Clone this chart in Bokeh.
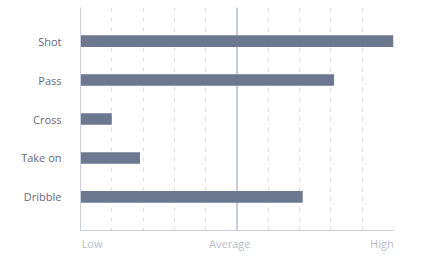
from bokeh.plotting import figure
from bokeh.models import Range1d, FixedTicker, Span
from bokeh.embed import file_html
from bokeh.resources import INLINE

# Skill ratings on a 0 (Low) .. 10 (High) scale
skills = ["Shot", "Pass", "Cross", "Take on", "Dribble"]
ratings = [10, 8.1, 1.0, 1.9, 7.1]

average_level = 5
# scale words sit just inside the ends of the value axis
scale_label_positions = [0.37, 4.77, 9.63]
scale_labels = ["Low", "Average", "High"]

FONT = "Open Sans"
BAR = "#6b7890"
LABEL = "#5f6b80"
MUTED = "#b7bdca"
AXIS = "#c9cdd9"

ypos = list(range(len(skills)))

p = figure(width=426, height=256, output_backend="svg", toolbar_location=None,
           x_range=Range1d(0, 10), y_range=Range1d(4.86, -0.86),
           min_border_left=80, min_border_right=33,
           min_border_top=7, min_border_bottom=26)
p.outline_line_color = None

# dashed vertical guides at every scale step
p.xgrid.ticker = FixedTicker(ticks=list(range(1, 11)))
p.xgrid.grid_line_color = "#dcdde2"
p.xgrid.grid_line_dash = "4 6"
p.xgrid.grid_line_width = 1
p.ygrid.grid_line_color = None

# solid marker for the average, behind the bars
p.add_layout(Span(location=average_level, dimension="height",
                  line_color=AXIS, line_width=2, level="underlay"))

p.hbar(y=ypos, left=0, right=ratings, height=0.3,
       fill_color=BAR, line_color=None)

# category axis
p.yaxis.ticker = FixedTicker(ticks=ypos)
p.yaxis.major_label_overrides = {i: s for i, s in zip(ypos, skills)}
p.yaxis.major_tick_line_color = None
p.yaxis.minor_tick_line_color = None
p.yaxis.major_tick_out = 0
p.yaxis.major_label_standoff = 19
p.yaxis.axis_line_color = AXIS
p.yaxis.major_label_text_font = FONT
p.yaxis.major_label_text_font_size = "11px"
p.yaxis.major_label_text_color = LABEL

# value axis with scale words
p.xaxis.ticker = FixedTicker(ticks=scale_label_positions)
p.xaxis.major_label_overrides = {x: t for x, t in zip(scale_label_positions, scale_labels)}
p.xaxis.major_tick_line_color = None
p.xaxis.minor_tick_line_color = None
p.xaxis.major_tick_out = 0
p.xaxis.major_label_standoff = 5
p.xaxis.axis_line_color = AXIS
p.xaxis.major_label_text_font = FONT
p.xaxis.major_label_text_font_size = "11px"
p.xaxis.major_label_text_color = MUTED

open("out.html", "w").write(file_html(p, INLINE))
